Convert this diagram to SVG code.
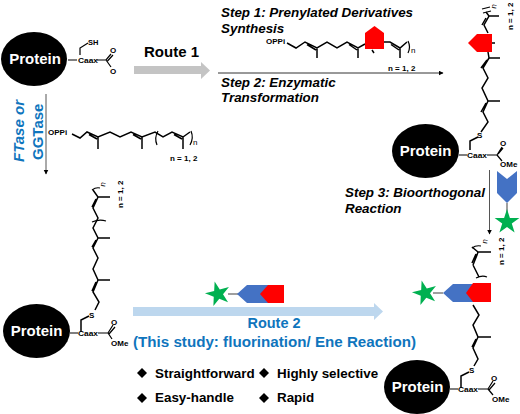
<svg xmlns="http://www.w3.org/2000/svg" xmlns:xlink="http://www.w3.org/1999/xlink" width="520" height="414" viewBox="0 0 520 414">
<style>
text{font-family:"Liberation Sans",Arial,sans-serif;fill:#000}
.p{font-size:15px;font-weight:700;fill:#fff;text-anchor:middle}
.s{font-size:8px}
.sb{font-size:7.5px;font-weight:700}
.sm{font-size:8px;font-weight:700}
.step{font-size:13.4px;font-weight:700;font-style:italic}
.bl{font-size:13.4px;font-weight:700}
.rt{fill:#0f75bd;font-weight:700;font-size:14.5px}
.c{fill:none;stroke:#000;stroke-width:1.5}
.m{fill:none;stroke:#000;stroke-width:1.2}
</style>
<defs>
<marker id="ah" markerWidth="6" markerHeight="6" refX="4.5" refY="2.5" orient="auto"><path d="M0 0L5 2.5L0 5z" fill="#000"/></marker>
<polygon id="star" fill="#00b050" points="0,-13 2.9,-4 12.4,-4 4.8,1.5 7.6,10.5 0,5 -7.6,10.5 -4.8,1.5 -12.4,-4 -2.9,-4"/>
<polygon id="dia" fill="#000" points="0,-5 5,0 0,5 -5,0"/>
</defs>
<rect width="520" height="414" fill="#fff"/>
<g id="connectors">
<path d="M134 66H201V62L210 70.500L201 79V74H134z" fill="#c4c4c4"/>
<path d="M133 307H374V303L383 311.500L374 320V316H133z" fill="#bdd7ee"/>
<path d="M46 94V174" stroke="#555" stroke-width="1" fill="none" marker-end="url(#ah)"/>
<path d="M218 73H443" stroke="#333" stroke-width="1" fill="none" marker-end="url(#ah)"/>
<path d="M489.500 170V234" stroke="#555" stroke-width="1" fill="none" marker-end="url(#ah)"/>
</g>
<g id="protein-start">
<ellipse cx="34" cy="59" rx="33" ry="27" fill="#000"/>
<text class="p" x="35" y="64">Protein</text>
<path class="m" d="M68 60H77M80 55V48L88 43M97 60H106L111 54M107.500 61L113 55M106 60L111 67"/>
<text class="sb" x="78" y="63" textLength="20" lengthAdjust="spacingAndGlyphs">Caax</text>
<text class="sb" x="88" y="45">SH</text>
<text class="sm" x="110" y="53">O</text>
<text class="sm" x="110" y="74">O</text>
</g>
<g id="route1-label"><text x="144" y="57" font-size="15" font-weight="700">Route 1</text></g>
<g id="ftase-label">
<text transform="translate(23.500,162) rotate(-90)" class="rt" font-style="italic" style="font-size:15px">FTase or</text>
<text transform="translate(42.500,160) rotate(-90)" class="rt" style="font-size:15px">GGTase</text>
</g>
<g id="isoprenoid-left">
<text class="sm" x="48" y="135">OPPi</text>
<path class="c" d="M72 134L80 138L87 132L98 137L110 132L120 137L131 132L142 137L155 132L163 137L172 132L183 137L190 132M98 137V149M142 137V149M183 137V149M89 134.500L97 139M133 134.500L141 139M174 134.500L182 139"/>
<path class="m" d="M158 131Q154 138 157 145M191 131Q194 138 190 145"/>
<text class="s" x="193" y="145">n</text>
<text class="sm" x="170" y="161">n = 1, 2</text>
</g>
<g id="steps">
<text class="step" x="221" y="17">Step 1: Prenylated Derivatives</text>
<text class="step" x="221" y="33">Synthesis</text>
<text class="step" x="221" y="87">Step 2: Enzymatic</text>
<text class="step" x="221" y="102">Transformation</text>
<text class="step" x="345" y="197">Step 3: Bioorthogonal</text>
<text class="step" x="345" y="213">Reaction</text>
</g>
<g id="prenyl-derivative">
<text class="sm" x="266" y="44">OPPi</text>
<path class="c" d="M287 43L296 48L305 42L317 48L327 42L337 48L347 42L358 48L365 44M384 42H390L400 48L407 42M317 48V58M358 48V58M400 48V58M307 44.500L316 50M349 44.500L357 50M391 44.500L399 50M372 50L374 53"/>
<polygon points="365,49 384,49 384,33 374.500,26 365,33" fill="#f00"/>
<path class="m" d="M408 41Q411 47 408 53"/>
<text class="s" x="411" y="53">n</text>
<text class="sm" x="388" y="71">n = 1, 2</text>
</g>
<g id="protein-prenylated">
<ellipse cx="425.500" cy="151" rx="33.500" ry="27" fill="#000"/>
<text class="p" x="425.500" y="156">Protein</text>
<path class="c" d="M486 12L489 16L484 25L488 33M489 16H499M492 43H495M488 52L489 58L483 68L488 78L482 88L488 101L483 112L488 122L481 132M478 137L470 141V150M489 58H500M488 101H500M486 18L482 25M487 60L481 68M486 103L481 112"/>
<path class="m" d="M482 9L490 7M483 13L491 11"/>
<polygon points="468,43 477,34 492,34 492,52 477,52" fill="#f00"/>
<path class="m" d="M459 155H467M487 155H497L502 147M498 154L503 148M497 155L502 161"/>
<text class="s" transform="translate(496,9) rotate(-80)">n</text>
<text class="sm" transform="translate(513,30) rotate(-90)">n = 1, 2</text>
<text class="sm" x="477" y="138">S</text>
<text class="sb" x="467" y="158" textLength="20" lengthAdjust="spacingAndGlyphs">Caax</text>
<text class="sm" x="500" y="146">O</text>
<text class="sm" x="500" y="167">OMe</text>
</g>
<g id="probe-right">
<path d="M507 203V212" stroke="#7f7f7f" stroke-width="1.500"/>
<polygon points="497,171 507,179 517,171 517,193 507,203 497,193" fill="#4472c4"/>
<use href="#star" xlink:href="#star" transform="translate(507,222)"/>
</g>
<g id="protein-left">
<ellipse cx="36.500" cy="331" rx="33.500" ry="27" fill="#000"/>
<text class="p" x="36.500" y="336">Protein</text>
<path class="c" d="M81 332V320L89 316M95 310L99 302L93 292L98 280L93 269L98 258L93 248L98 238L93 228L98 218L93 208L98 197L93 190M98 280H110M98 238H110M98 197H110M96 282L92 291M96 240L92 247M96 199L92 207"/>
<path class="m" d="M92 222Q99 219 106 221M92 190Q96 187 100 188M70 333H78M98 333H108L113 325M109 334L115 327M108 333L112 339"/>
<text class="s" transform="translate(105,187) rotate(-80)">n</text>
<text class="sm" transform="translate(123,208) rotate(-90)">n = 1, 2</text>
<text class="sm" x="89" y="318">S</text>
<text class="sb" x="78" y="336" textLength="20" lengthAdjust="spacingAndGlyphs">Caax</text>
<text class="sm" x="111" y="325">O</text>
<text class="sm" x="111" y="346">OMe</text>
</g>
<g id="probe-middle">
<path d="M228 294H238" stroke="#7f7f7f" stroke-width="1.500"/>
<use href="#star" xlink:href="#star" transform="translate(218,294) rotate(-15)"/>
<polygon points="237,294 247,285 270,285 270,303 247,303" fill="#4472c4"/>
<polygon points="260,294 268,285 284,285 284,303 268,303" fill="#f00"/>
</g>
<g id="route2-label">
<text class="rt" x="274" y="328" text-anchor="middle">Route 2</text>
<text class="rt" x="133" y="347" textLength="283" lengthAdjust="spacingAndGlyphs">(This study: fluorination/ Ene Reaction)</text>
</g>
<g id="features">
<use href="#dia" xlink:href="#dia" transform="translate(142,373)"/>
<text class="bl" x="155" y="378">Straightforward</text>
<use href="#dia" xlink:href="#dia" transform="translate(264,373)"/>
<text class="bl" x="277" y="378">Highly selective</text>
<use href="#dia" xlink:href="#dia" transform="translate(142,398)"/>
<text class="bl" x="155" y="402">Easy-handle</text>
<use href="#dia" xlink:href="#dia" transform="translate(264,398)"/>
<text class="bl" x="277" y="402">Rapid</text>
</g>
<g id="protein-product">
<ellipse cx="417" cy="387" rx="33" ry="27" fill="#000"/>
<text class="p" x="417.500" y="392">Protein</text>
<path class="c" d="M461 388V376L469 372M474 366L478 359L473 348L478 337L473 325L479 315L473 305M478 337H491M476 339L472 347M473 265L477 255L478 252H491M478 252L472 247M476 254L472 263M473 265L479 277"/>
<path class="m" d="M472 248Q476 245 481 246M476 278Q482 275 487 277M450 389H458M478 389H488L493 381M489 390L495 383M488 389L493 395"/>
<path d="M433 293H443" stroke="#7f7f7f" stroke-width="1.500"/>
<use href="#star" xlink:href="#star" transform="translate(425,293) rotate(-15)"/>
<polygon points="443,293 453,284 475,284 475,302 453,302" fill="#4472c4"/>
<polygon points="466,293 473,283 491,283 491,302 473,302" fill="#f00"/>
<text class="s" transform="translate(487,244) rotate(-80)">n</text>
<text class="sm" transform="translate(504,265) rotate(-90)">n = 1, 2</text>
<text class="sm" x="469" y="373">S</text>
<text class="sb" x="458" y="392" textLength="20" lengthAdjust="spacingAndGlyphs">Caax</text>
<text class="sm" x="491" y="381">O</text>
<text class="sm" x="492" y="402">OMe</text>
</g>
</svg>
